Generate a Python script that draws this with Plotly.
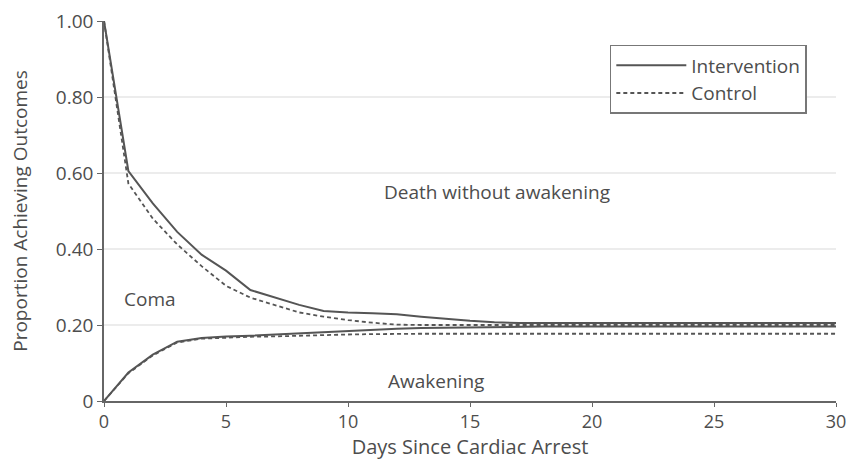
import plotly.graph_objects as go

# Days since cardiac arrest
days = [0, 1, 2, 3, 4, 5, 6, 7, 8, 9, 10, 11, 12, 13, 14, 15, 16, 17, 18, 20, 22, 25, 28, 30]

# Upper curves: proportion alive (coma + awake)
int_upper = [1.00, 0.605, 0.52, 0.445, 0.385, 0.343, 0.292, 0.272, 0.253, 0.237, 0.233, 0.231, 0.228,
             0.222, 0.216, 0.211, 0.207, 0.205, 0.205, 0.205, 0.205, 0.205, 0.205, 0.205]
ctl_upper = [1.00, 0.572, 0.48, 0.412, 0.355, 0.303, 0.272, 0.252, 0.233, 0.222, 0.213, 0.206, 0.201,
             0.200, 0.200, 0.200, 0.200, 0.200, 0.200, 0.200, 0.200, 0.200, 0.200, 0.200]

# Lower curves: proportion awakened
int_lower = [0.0, 0.075, 0.122, 0.156, 0.166, 0.170, 0.172, 0.175, 0.178, 0.182, 0.185, 0.188, 0.190,
             0.192, 0.193, 0.194, 0.195, 0.196, 0.196, 0.196, 0.196, 0.196, 0.196, 0.196]
ctl_lower = [0.0, 0.073, 0.120, 0.154, 0.164, 0.167, 0.169, 0.170, 0.172, 0.174, 0.175, 0.176, 0.177,
             0.177, 0.177, 0.177, 0.177, 0.177, 0.177, 0.177, 0.177, 0.177, 0.177, 0.177]

y_tickvals = [0, 0.2, 0.4, 0.6, 0.8, 1.0]
y_ticktext = ["0", "0.20", "0.40", "0.60", "0.80", "1.00"]
x_tickvals = [0, 5, 10, 15, 20, 25, 30]

FONT = "Open Sans, Noto Sans, DejaVu Sans, sans-serif"
TXT = "#4d4d4d"
LINE = "#555555"
FS = 19

fig = go.Figure()
fig.add_trace(go.Scatter(x=days, y=int_upper, mode="lines", name="Intervention",
                         line=dict(color=LINE, width=2), legendgroup="i"))
fig.add_trace(go.Scatter(x=days, y=ctl_upper, mode="lines", name="Control",
                         line=dict(color=LINE, width=1.8, dash="4px,3px"), legendgroup="c"))
fig.add_trace(go.Scatter(x=days, y=int_lower, mode="lines", name="Intervention",
                         line=dict(color=LINE, width=2), legendgroup="i", showlegend=False))
fig.add_trace(go.Scatter(x=days, y=ctl_lower, mode="lines", name="Control",
                         line=dict(color=LINE, width=1.8, dash="4px,3px"), legendgroup="c", showlegend=False))

ann_font = dict(family=FONT, size=FS, color=TXT)
fig.add_annotation(x=16.1, y=0.55, text="Death without awakening", showarrow=False, font=ann_font)
fig.add_annotation(x=0.72, y=0.268, text="Coma", showarrow=False, xanchor="left", font=ann_font)
fig.add_annotation(x=13.6, y=0.053, text="Awakening", showarrow=False, font=ann_font)

fig.update_layout(
    width=848, height=460,
    margin=dict(l=104, r=12, t=21, b=59, autoexpand=False),
    paper_bgcolor="white", plot_bgcolor="white",
    font=dict(family=FONT, size=FS, color=TXT),
    legend=dict(x=0.691, y=0.937, xanchor="left", yanchor="top",
                bgcolor="white", bordercolor="#777", borderwidth=1.5,
                font=dict(family=FONT, size=FS, color=TXT),
                itemwidth=70, tracegroupgap=0),
    xaxis=dict(range=[0, 30], tickvals=x_tickvals, showgrid=False, zeroline=False,
               showline=True, linecolor="#666", linewidth=1.5, automargin=False,
               ticks="outside", ticklen=4, tickcolor="#666",
               title=dict(text="Days Since Cardiac Arrest", standoff=11,
                          font=dict(family=FONT, size=20, color=TXT)),
               tickfont=dict(family=FONT, size=18, color=TXT)),
    yaxis=dict(range=[0, 1.0], tickvals=y_tickvals, ticktext=y_ticktext,
               showgrid=True, gridcolor="#ececec", gridwidth=1.5, zeroline=False,
               showline=True, linecolor="#666", linewidth=1.5, automargin=False,
               ticks="outside", ticklen=5, tickcolor="#666",
               title=dict(text="Proportion Achieving Outcomes", standoff=23,
                          font=dict(family=FONT, size=FS, color=TXT)),
               tickfont=dict(family=FONT, size=FS, color=TXT)),
)

fig.write_html("out.html")
